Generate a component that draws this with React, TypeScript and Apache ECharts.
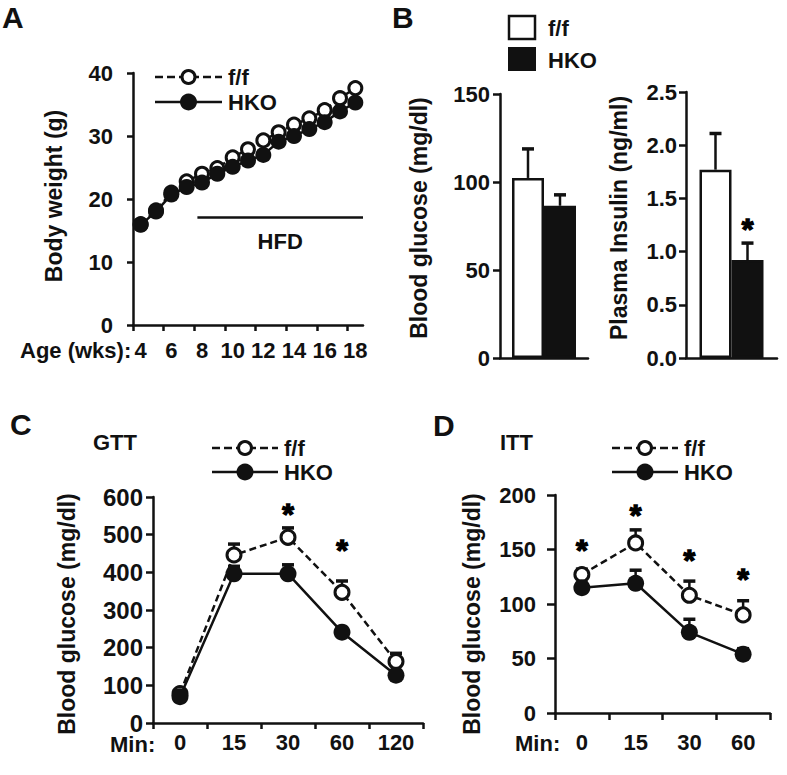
import React, { useEffect, useRef } from 'react';
import * as echarts from 'echarts';

// ---------- data ----------
const weeks = [4, 5, 6, 7, 8, 9, 10, 11, 12, 13, 14, 15, 16, 17, 18];
const weekTicks = [3.5, 5.5, 7.5, 9.5, 11.5, 13.5, 15.5, 17.5];
const weekLabels = [4, 6, 8, 10, 12, 14, 16, 18];
const bwFF = [16.0, 18.2, 21.0, 22.8, 24.0, 24.9, 26.6, 27.9, 29.3, 30.6, 31.8, 32.8, 34.1, 36.0, 37.6];
const bwHKO = [15.9, 18.0, 20.7, 21.9, 22.6, 24.0, 25.1, 26.1, 27.0, 29.1, 30.0, 31.1, 32.2, 33.9, 35.3];
const hfdStart = 7.7;
const hfdEnd = 18.5;
const hfdY = 17.1;

const groups = ['f/f', 'HKO'];
const glucoseMean = [102.3, 86.5];
const glucoseErr = [16.5, 6.2];
const insulinMean = [1.77, 0.92];
const insulinErr = [0.34, 0.16];
const insulinStarY = [1.22];

const gttMin = ['0', '15', '30', '60', '120'];
const gttFF = [78, 446, 493, 347, 163];
const gttFFErr = [8, 29, 25, 30, 22];
const gttHKO = [70, 396, 396, 241, 127];
const gttHKOErr = [5, 20, 24, 11, 12];
const gttStarIdx = [2, 3];
const gttStarY = [555, 460];

const ittMin = ['0', '15', '30', '60'];
const ittFF = [127, 156, 108, 90];
const ittFFErr = [5, 12, 13, 13];
const ittHKO = [115, 119, 74, 54];
const ittHKOErr = [4, 12, 12, 5];
const ittStarIdx = [0, 1, 2, 3];
const ittStarY = [150, 182, 141, 123];

// ---------- style ----------
const FONT = "'Liberation Sans', Arial, Helvetica, sans-serif";
const INK = '#111';
const FS = 22;

const axisLine = { show: true, lineStyle: { color: INK, width: 2.5 } };
const tick = (len: number, extra: any = {}) => ({ show: true, length: len, lineStyle: { color: INK, width: 2.5 }, ...extra });
const lab = (margin: number, extra: any = {}) => ({
  color: INK, fontSize: FS, fontWeight: 'bold', fontFamily: FONT, margin, ...extra,
});
const nameStyle = (padding: number[]) => ({
  color: INK, fontSize: 23, fontWeight: 'bold', fontFamily: FONT, padding,
});

function errRender(offset: number) {
  return (params: any, api: any) => {
    const x = api.value(0);
    const y = api.value(1);
    const e = api.value(2);
    const p1 = api.coord([x, y]);
    const p2 = api.coord([x, y + e]);
    const cx = p1[0] + offset;
    return {
      type: 'group',
      children: [
        { type: 'line', shape: { x1: cx, y1: p1[1], x2: cx, y2: p2[1] }, style: { stroke: INK, lineWidth: 2.5 } },
        { type: 'line', shape: { x1: cx - 6, y1: p2[1], x2: cx + 6, y2: p2[1] }, style: { stroke: INK, lineWidth: 3.5 } },
      ],
    };
  };
}

function errSeries(axis: number, mean: number[], err: number[], offset = 0, z = 1) {
  return {
    type: 'custom',
    xAxisIndex: axis,
    yAxisIndex: axis,
    renderItem: errRender(offset),
    data: mean.map((m, i) => [i, m, err[i]]),
    encode: { x: 0, y: 1 },
    z,
    silent: true,
  };
}

function starSeries(axis: number, idx: number[], ys: number[], offsetX = 0) {
  return {
    type: 'scatter',
    xAxisIndex: axis,
    yAxisIndex: axis,
    symbol: 'circle',
    symbolSize: 1,
    itemStyle: { color: '#fff', opacity: 0 },
    label: {
      show: true, position: 'inside', formatter: '*', offset: [offsetX, 0],
      color: '#000', opacity: 1, fontSize: 30, fontWeight: 'bold', fontFamily: FONT,
      textBorderColor: '#000', textBorderWidth: 1.4,
    },
    data: idx.map((k, i) => [k, ys[i]]),
    z: 6,
    silent: true,
  };
}

function lineSeries(axis: number, data: any[], open: boolean, size: number, dash: boolean, extra: any = {}) {
  return {
    type: 'line',
    xAxisIndex: axis,
    yAxisIndex: axis,
    data,
    symbol: 'circle',
    symbolSize: size,
    showSymbol: true,
    lineStyle: { color: INK, width: 2.5, type: dash ? [7, 4] : 'solid' },
    itemStyle: open
      ? { color: '#fff', borderColor: INK, borderWidth: 3 }
      : { color: INK, borderColor: INK, borderWidth: 0 },
    z: open ? 3 : 4,
    silent: true,
    ...extra,
  };
}

function txt(x: number, y: number, text: string, size = FS, align = 'left') {
  return {
    type: 'text', x, y,
    style: { text, fill: INK, fontSize: size, fontWeight: 'bold', fontFamily: FONT, align, verticalAlign: 'middle' },
  };
}

function lineLegend(x1: number, x2: number, y: number, label: string, open: boolean) {
  const cx = (x1 + x2) / 2;
  return [
    { type: 'line', shape: { x1, y1: y, x2, y2: y }, style: { stroke: INK, lineWidth: 2.5, lineDash: open ? [8, 4] : null } },
    open
      ? { type: 'circle', shape: { cx, cy: y, r: 6.5 }, style: { fill: '#fff', stroke: INK, lineWidth: 3 } }
      : { type: 'circle', shape: { cx, cy: y, r: 8.5 }, style: { fill: INK } },
    txt(x2 + 6, y, label),
  ];
}

function buildOption() {
  const grids = [
    { left: 133, top: 73, width: 230, height: 252 },
    { left: 500, top: 94, width: 88, height: 264 },
    { left: 686, top: 92, width: 91, height: 266 },
    { left: 153, top: 497, width: 270, height: 226 },
    { left: 555, top: 495, width: 215, height: 218 },
  ].map((g) => ({ ...g, containLabel: false, outerBoundsMode: 'none', show: false }));

  const xAxis = [
    {
      type: 'value', gridIndex: 0, min: 3.5, max: 18.5,
      axisLine, axisTick: tick(6, { customValues: weekTicks }),
      axisLabel: lab(14, { customValues: weekLabels }),
      splitLine: { show: false },
    },
    { type: 'category', gridIndex: 1, data: ['glucose'], axisLine, axisTick: { show: false }, axisLabel: { show: false } },
    { type: 'category', gridIndex: 2, data: ['insulin'], axisLine, axisTick: { show: false }, axisLabel: { show: false } },
    { type: 'category', gridIndex: 3, data: gttMin, axisLine, axisTick: tick(6), axisLabel: lab(8) },
    { type: 'category', gridIndex: 4, data: ittMin, axisLine, axisTick: tick(7), axisLabel: lab(18) },
  ];

  const yAxis = [
    {
      type: 'value', gridIndex: 0, min: 0, max: 40, interval: 10,
      name: 'Body weight (g)', nameLocation: 'middle', nameGap: 68, nameTextStyle: nameStyle([0, 0, 0, 6]),
      axisLine, axisTick: tick(6), axisLabel: lab(20), splitLine: { show: false },
    },
    {
      type: 'value', gridIndex: 1, min: 0, max: 150, interval: 50,
      name: 'Blood glucose (mg/dl)', nameLocation: 'middle', nameGap: 70, nameTextStyle: nameStyle([0, 0, 0, 16]),
      axisLine, axisTick: tick(7), axisLabel: lab(10), splitLine: { show: false },
    },
    {
      type: 'value', gridIndex: 2, min: 0, max: 2.5, interval: 0.5,
      name: 'Plasma Insulin (ng/ml)', nameLocation: 'middle', nameGap: 56, nameTextStyle: nameStyle([0, 0, 0, 14]),
      axisLine, axisTick: tick(7), axisLabel: lab(9, { formatter: (v: number) => v.toFixed(1) }), splitLine: { show: false },
    },
    {
      type: 'value', gridIndex: 3, min: 0, max: 600, interval: 100,
      name: 'Blood glucose (mg/dl)', nameLocation: 'middle', nameGap: 75, nameTextStyle: nameStyle([0, 8, 0, 0]),
      axisLine, axisTick: tick(7), axisLabel: lab(10, { fontSize: 24 }), splitLine: { show: false },
    },
    {
      type: 'value', gridIndex: 4, min: 0, max: 200, interval: 50,
      name: 'Blood glucose (mg/dl)', nameLocation: 'middle', nameGap: 72, nameTextStyle: nameStyle([0, 20, 0, 0]),
      axisLine, axisTick: tick(8), axisLabel: lab(19), splitLine: { show: false },
    },
  ];

  const series: any[] = [
    // A
    lineSeries(0, weeks.map((w, i) => [w, bwFF[i]]), true, 13, true),
    lineSeries(0, weeks.map((w, i) => [w, bwHKO[i]]), false, 16, false, {
      markLine: {
        silent: true,
        symbol: ['none', 'none'],
        lineStyle: { color: INK, width: 2.5, type: 'solid' },
        label: {
          show: true, position: 'insideMiddleBottom', formatter: 'HFD', distance: 13,
          color: INK, fontSize: FS, fontWeight: 'bold', fontFamily: FONT,
        },
        emphasis: { disabled: true },
        data: [[{ coord: [hfdStart, hfdY] }, { coord: [hfdEnd, hfdY] }]],
      },
    }),
    // B glucose
    {
      type: 'bar', xAxisIndex: 1, yAxisIndex: 1, name: groups[0], data: [glucoseMean[0]], barWidth: 32, barGap: '0%',
      itemStyle: { color: '#fff', borderColor: INK, borderWidth: 2.5 }, silent: true, z: 2,
    },
    {
      type: 'bar', xAxisIndex: 1, yAxisIndex: 1, name: groups[1], data: [glucoseMean[1]], barWidth: 32, barGap: '0%',
      itemStyle: { color: INK, borderColor: INK, borderWidth: 2.5 }, silent: true, z: 2,
    },
    errSeries(1, [glucoseMean[0]], [glucoseErr[0]], -16, 3),
    errSeries(1, [glucoseMean[1]], [glucoseErr[1]], 16, 3),
    // B insulin
    {
      type: 'bar', xAxisIndex: 2, yAxisIndex: 2, name: groups[0], data: [insulinMean[0]], barWidth: 32, barGap: '0%',
      itemStyle: { color: '#fff', borderColor: INK, borderWidth: 2.5 }, silent: true, z: 2,
    },
    {
      type: 'bar', xAxisIndex: 2, yAxisIndex: 2, name: groups[1], data: [insulinMean[1]], barWidth: 32, barGap: '0%',
      itemStyle: { color: INK, borderColor: INK, borderWidth: 2.5 }, silent: true, z: 2,
    },
    errSeries(2, [insulinMean[0]], [insulinErr[0]], -16, 3),
    errSeries(2, [insulinMean[1]], [insulinErr[1]], 16, 3),
    starSeries(2, [0], insulinStarY, 16),
    // C
    errSeries(3, gttFF, gttFFErr),
    errSeries(3, gttHKO, gttHKOErr),
    lineSeries(3, gttFF, true, 14, true),
    lineSeries(3, gttHKO, false, 17, false),
    starSeries(3, gttStarIdx, gttStarY),
    // D
    errSeries(4, ittFF, ittFFErr),
    errSeries(4, ittHKO, ittHKOErr),
    lineSeries(4, ittFF, true, 14, true),
    lineSeries(4, ittHKO, false, 17, false),
    starSeries(4, ittStarIdx, ittStarY),
  ];

  const graphic: any[] = [
    txt(2, 17, 'A', 30),
    txt(392, 17, 'B', 30),
    txt(10, 424, 'C', 30),
    txt(433, 425, 'D', 30),
    txt(93, 442, 'GTT'),
    txt(500, 442, 'ITT'),
    txt(20, 350, 'Age (wks):'),
    txt(110, 744, 'Min:'),
    txt(515, 743, 'Min:'),
    ...lineLegend(155, 222, 77, 'f/f', true),
    ...lineLegend(155, 222, 102, 'HKO', false),
    ...lineLegend(212, 278, 448, 'f/f', true),
    ...lineLegend(212, 278, 472, 'HKO', false),
    ...lineLegend(612, 678, 448, 'f/f', true),
    ...lineLegend(612, 678, 472, 'HKO', false),
    { type: 'rect', shape: { x: 509, y: 16, width: 26, height: 23 }, style: { fill: '#fff', stroke: INK, lineWidth: 2.5 } },
    { type: 'rect', shape: { x: 508, y: 47, width: 28, height: 24 }, style: { fill: INK } },
    txt(548, 28, groups[0]),
    txt(548, 60, groups[1]),
  ];

  return {
    animation: false,
    backgroundColor: '#fff',
    textStyle: { fontFamily: FONT },
    grid: grids,
    xAxis,
    yAxis,
    series,
    graphic,
  };
}

export default function App() {
  const ref = useRef<HTMLDivElement>(null);
  useEffect(() => {
    const chart = echarts.init(ref.current!, null, { renderer: 'svg' });
    chart.setOption(buildOption() as any);
    return () => chart.dispose();
  }, []);
  return (
    <div
      ref={ref}
      style={{ position: 'fixed', left: 0, top: 0, width: 787, height: 775, background: '#fff' }}
    />
  );
}
